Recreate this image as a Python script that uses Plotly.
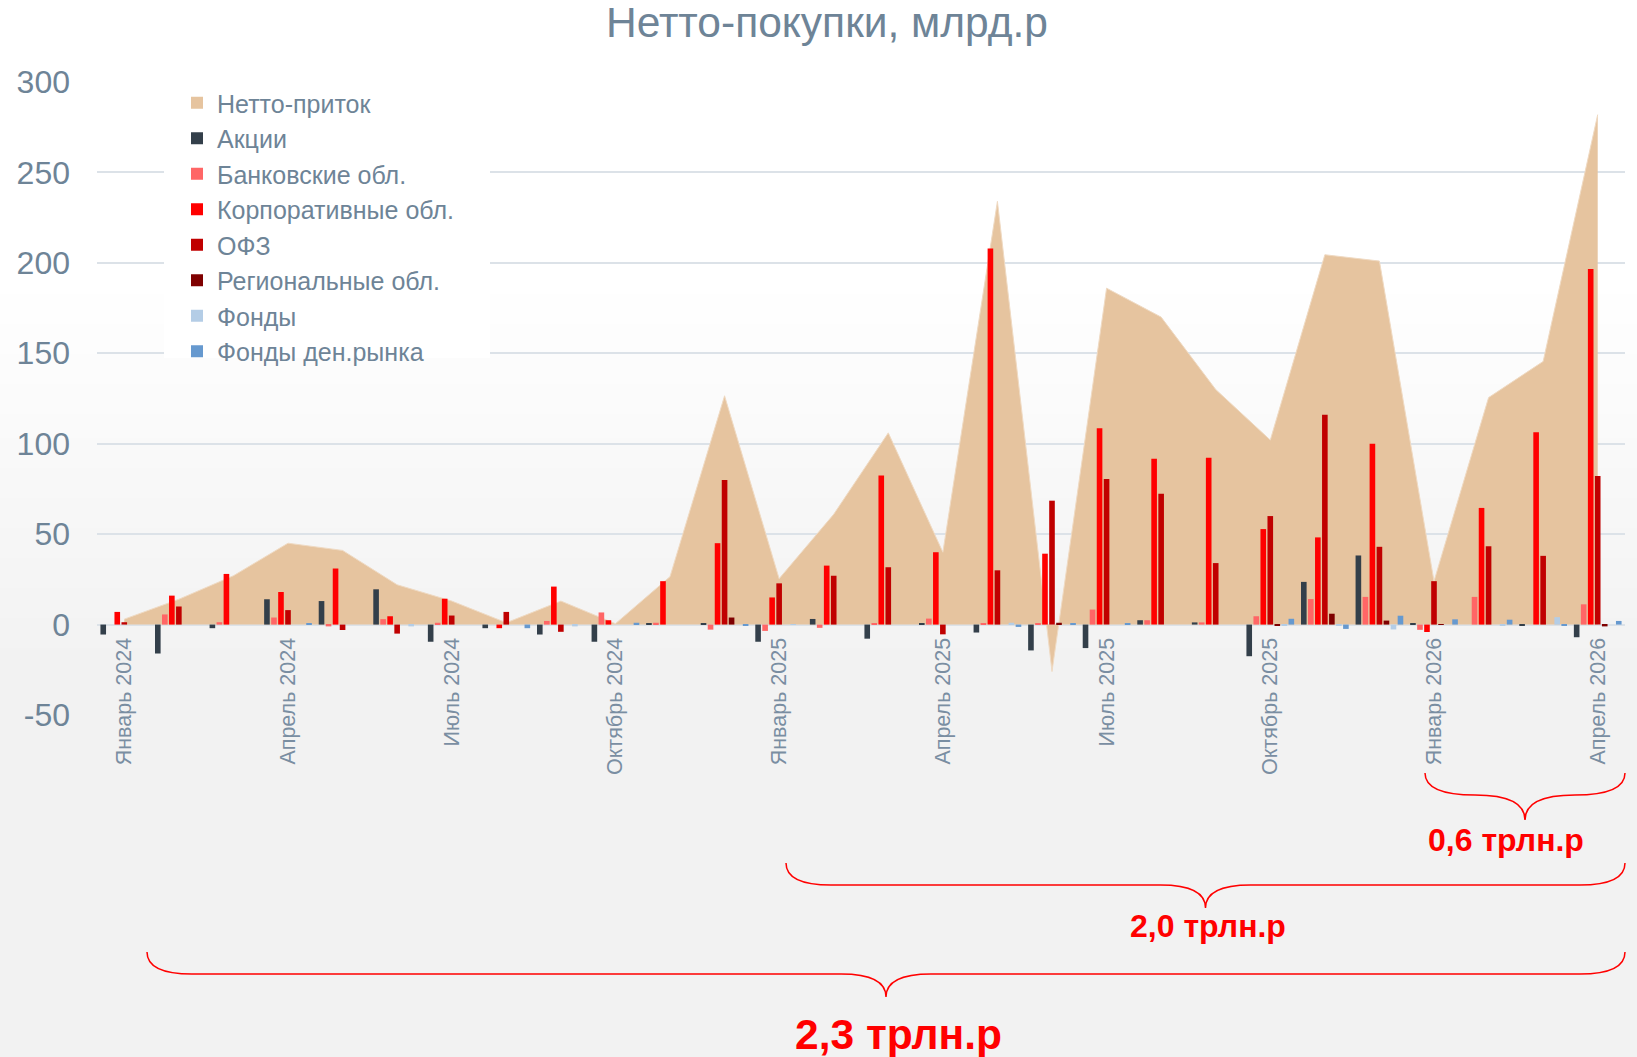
import plotly.graph_objects as go

# ---------------- data ----------------
months = [
    "Январь 2024", "Февраль 2024", "Март 2024", "Апрель 2024", "Май 2024", "Июнь 2024",
    "Июль 2024", "Август 2024", "Сентябрь 2024", "Октябрь 2024", "Ноябрь 2024", "Декабрь 2024",
    "Январь 2025", "Февраль 2025", "Март 2025", "Апрель 2025", "Май 2025", "Июнь 2025",
    "Июль 2025", "Август 2025", "Сентябрь 2025", "Октябрь 2025", "Ноябрь 2025", "Декабрь 2025",
    "Январь 2026", "Февраль 2026", "Март 2026", "Апрель 2026",
]
tick_labels = months[::3]
y_ticks = [-50, 0, 50, 100, 150, 200, 250, 300]

net_inflow = [3, 14, 27, 45, 41, 22, 13, 1, 13, 0.5, 26.5, 126.5,
              25.4, 61, 106, 40, 234, -26, 186, 170, 130, 102, 204.5, 201,
              24, 125.5, 145.5, 282]
stocks = [-5.5, -16, -2, 14, 13, 19.5, -9.5, -2, -5.5, -9.5, 0.7, 0.5,
          -9.5, 3.1, -7.8, 0.6, -4.4, -14.3, -13, 2.4, 1.2, -17.5, 23.6, 38.2,
          0.5, 0, -0.5, -7]
bank_bonds = [0, 5.6, 1.3, 3.9, -1, 3, 1, 0, 2, 6.7, 1, -2.8,
              -3.5, -1.8, 0.5, 3.3, 0.5, 0.5, 8.3, 2.4, 1.2, 4.6, 14.1, 15.3,
              -2.9, 15.3, 0, 11.2]
corp_bonds = [7, 16, 28, 18, 31, 4.6, 14.3, -2, 21, 2.4, 24, 45,
              15, 32.6, 82.4, 40, 208, 39.2, 108.5, 91.7, 92.2, 52.8, 48.2, 100,
              -4.1, 64.5, 106.3, 196.6]
ofz = [1.3, 10, 0, 8, -3, -5, 5, 7, -4, 0, 0, 80,
       22.8, 27, 31.7, -5.4, 30, 68.5, 80.5, 72.3, 34, 60, 116, 43,
       24, 43.3, 38, 82.2]
regional_bonds = [0, 0, 0, 0, 0, 0, 0, 0, 0, 0, 0, 3.9,
                  0, 0, 0, 0, 0, 1, 0, 0, 0, -0.5, 6, 2.2,
                  0.3, 0, 0, -1]
funds = [0, 0, 0, 0, 0, -1, 0, 0, -1, 0, 0, 0,
         0.3, 0, 0, 0, 1, 0, 0, 0, 0, -0.5, -0.5, -2.7,
         0, -0.5, 4.1, 0]
mm_funds = [0, 0, 0, 0.5, 0, 0, 0, -2, 0, 1, 0, -0.5,
            0, 0, 0, 0, -1.3, 0.5, 0.5, 0, 0, 3.2, -2.4, 4.9,
            2.9, 2.7, -0.7, 2]

bar_series = [
    ("Акции", stocks, "#333F4A"),
    ("Банковские обл.", bank_bonds, "#FF6666"),
    ("Корпоративные обл.", corp_bonds, "#FF0000"),
    ("ОФЗ", ofz, "#C00000"),
    ("Региональные обл.", regional_bonds, "#7F0000"),
    ("Фонды", funds, "#B4CDE6"),
    ("Фонды ден.рынка", mm_funds, "#6699CF"),
]
AREA_COLOR = "#E6C49F"

brace_labels = ["0,6 трлн.р", "2,0 трлн.р", "2,3 трлн.р"]
title_text = "Нетто-покупки, млрд.р"

# ---------------- layout geometry (pixels) ----------------
W, H = 1637, 1057
PL, PR, PT, PB = 97, 1625, 82, 715
FONT = "Liberation Sans, Arial, sans-serif"
TXT = "#6E8497"


def xp(px):
    return (px - PL) / (PR - PL)


def yp(py):
    return (PB - py) / (PB - PT)


fig = go.Figure()

# area (primary axes, drawn underneath bars)
fig.add_trace(go.Scatter(
    x=months, y=net_inflow, mode="lines", fill="tozeroy",
    fillcolor=AREA_COLOR, line=dict(color="#EFDAC3", width=1),
    showlegend=False, hoverinfo="x+y", name="Нетто-приток",
    xaxis="x", yaxis="y",
))
# legend entry for area
fig.add_trace(go.Scatter(
    x=[None], y=[None], mode="markers", name="Нетто-приток",
    marker=dict(symbol="square", size=12, color=AREA_COLOR),
    xaxis="x", yaxis="y",
))
for name, vals, col in bar_series:
    fig.add_trace(go.Bar(
        x=months, y=vals, name=name, marker=dict(color=col, line=dict(width=0)),
        xaxis="x", yaxis="y2",
    ))

# background gradient strips
shapes = []
step = 6
for y0 in range(0, H, step):
    yc = y0 + step / 2
    if yc <= 280:
        v = 255
    elif yc >= 660:
        v = 242
    else:
        v = 255 - (yc - 280) / (660 - 280) * 13
    v = int(round(v))
    shapes.append(dict(
        type="rect", xref="paper", yref="paper", layer="below",
        x0=xp(-2), x1=xp(W + 2), y0=yp(y0 + step + 0.6), y1=yp(y0),
        fillcolor=f"rgb({v},{v},{v})", line=dict(width=0),
    ))

# legend background box (covers gridlines)
shapes.append(dict(
    type="rect", xref="paper", yref="paper", layer="above",
    x0=xp(164), x1=xp(490), y0=yp(358), y1=yp(85),
    fillcolor="#FFFFFF", line=dict(width=0),
))


def brace(x0, x1, ytop, ymid, ytip, r):
    xm = (x0 + x1) / 2
    pts = [
        f"M{xp(x0)},{yp(ytop)}",
        f"Q{xp(x0)},{yp(ymid)} {xp(x0 + r)},{yp(ymid)}",
        f"L{xp(xm - r)},{yp(ymid)}",
        f"Q{xp(xm)},{yp(ymid)} {xp(xm)},{yp(ytip)}",
        f"Q{xp(xm)},{yp(ymid)} {xp(xm + r)},{yp(ymid)}",
        f"L{xp(x1 - r)},{yp(ymid)}",
        f"Q{xp(x1)},{yp(ymid)} {xp(x1)},{yp(ytop)}",
    ]
    return dict(type="path", xref="paper", yref="paper", layer="above",
                path=" ".join(pts), line=dict(color="#FF0000", width=1.5))


shapes.append(brace(1425, 1625, 773, 795, 820, 50))
shapes.append(brace(786, 1625, 863, 885, 908, 45))
shapes.append(brace(147, 1625, 952, 974, 997, 45))

annotations = [
    dict(text=f"<b>{brace_labels[0]}</b>", x=xp(1506), y=yp(840), xref="paper", yref="paper",
         showarrow=False, xanchor="center", yanchor="middle",
         font=dict(family=FONT, size=32, color="#FF0000")),
    dict(text=f"<b>{brace_labels[1]}</b>", x=xp(1208), y=yp(926), xref="paper", yref="paper",
         showarrow=False, xanchor="center", yanchor="middle",
         font=dict(family=FONT, size=32, color="#FF0000")),
    dict(text=f"<b>{brace_labels[2]}</b>", x=xp(898), y=yp(1034), xref="paper", yref="paper",
         showarrow=False, xanchor="center", yanchor="middle",
         font=dict(family=FONT, size=42.5, color="#FF0000")),
]

fig.update_layout(
    width=W, height=H,
    margin=dict(l=PL, r=W - PR, t=PT, b=H - PB, pad=0),
    paper_bgcolor="#F2F2F2", plot_bgcolor="rgba(0,0,0,0)",
    font=dict(family=FONT, color=TXT),
    title=dict(text=title_text, x=827 / W, xref="container", xanchor="center",
               y=1 - 22 / H, yref="container", yanchor="middle",
               font=dict(family=FONT, size=42.5, color=TXT)),
    barmode="group", bargap=0.1, bargroupgap=0.2,
    showlegend=True,
    legend=dict(x=xp(177), y=yp(80), xanchor="left", yanchor="top",
                bgcolor="rgba(0,0,0,0)", borderwidth=0,
                font=dict(family=FONT, size=25, color=TXT),
                traceorder="normal"),
    xaxis=dict(type="category", range=[-0.5, len(months) - 0.5],
               anchor="free", position=50 / 350,
               tickmode="array", tickvals=tick_labels, ticktext=tick_labels,
               tickangle=-90, tickfont=dict(family=FONT, size=21.5, color="#7A8EA2"),
               showgrid=False, showline=False, zeroline=False, ticks="",
               ticklabelstandoff=8),
    yaxis=dict(range=[-50, 300], tickmode="array", tickvals=y_ticks,
               ticktext=[str(v) for v in y_ticks], showgrid=True,
               gridcolor="#DCE2E8", gridwidth=1.5, zeroline=False, showline=False,
               ticks="", tickfont=dict(family=FONT, size=32, color=TXT),
               ticklabelstandoff=26),
    yaxis2=dict(range=[-50, 300], overlaying="y", visible=False),
    shapes=shapes,
    annotations=annotations,
)

fig.write_html(
    "out.html",
    config={"displayModeBar": False},
    post_script="document.body.style.margin='0';document.body.style.overflow='hidden';",
)
